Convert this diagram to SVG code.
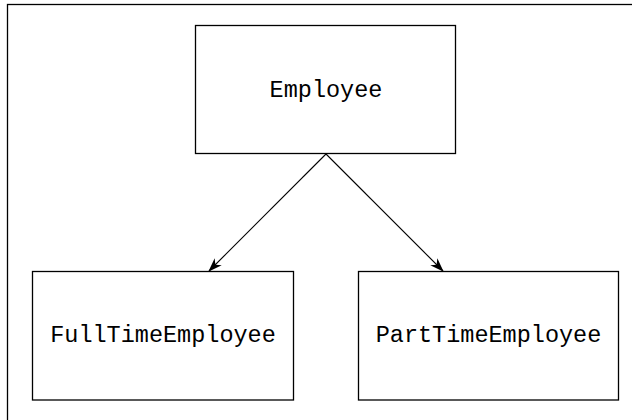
<svg xmlns="http://www.w3.org/2000/svg" width="632" height="420" viewBox="0 0 632 420">
<style>
.box{fill:#fff;stroke:#000;stroke-width:1.3}
.lbl{font-family:"Courier New",Courier,"Liberation Mono",monospace;font-size:23.5px;fill:#000;text-anchor:middle}
.edge{stroke:#000;stroke-width:1.1;fill:none}
</style>
<defs>
<marker id="arr" viewBox="0 0 14 10" refX="13" refY="5" markerWidth="14" markerHeight="10" markerUnits="userSpaceOnUse" orient="auto">
<path d="M0,0 L14,5 L0,10 L4,5 Z" fill="#000"/>
</marker>
</defs>
<rect width="632" height="420" fill="#fff"/>
<rect x="7.5" y="4.5" width="640" height="430" fill="none" stroke="#000" stroke-width="1.3"/>
<g id="connectors">
<line class="edge" x1="326" y1="154" x2="209" y2="271" marker-end="url(#arr)"/>
<line class="edge" x1="326" y1="154" x2="443" y2="271" marker-end="url(#arr)"/>
</g>
<g id="employee">
<rect class="box" x="195.5" y="25.5" width="260" height="128"/>
<text class="lbl" x="326" y="97">Employee</text>
</g>
<g id="fulltime">
<rect class="box" x="32.5" y="271.5" width="261" height="128.5"/>
<text class="lbl" x="163" y="342">FullTimeEmployee</text>
</g>
<g id="parttime">
<rect class="box" x="358.5" y="271.5" width="260" height="128.5"/>
<text class="lbl" x="488.5" y="342">PartTimeEmployee</text>
</g>
</svg>
